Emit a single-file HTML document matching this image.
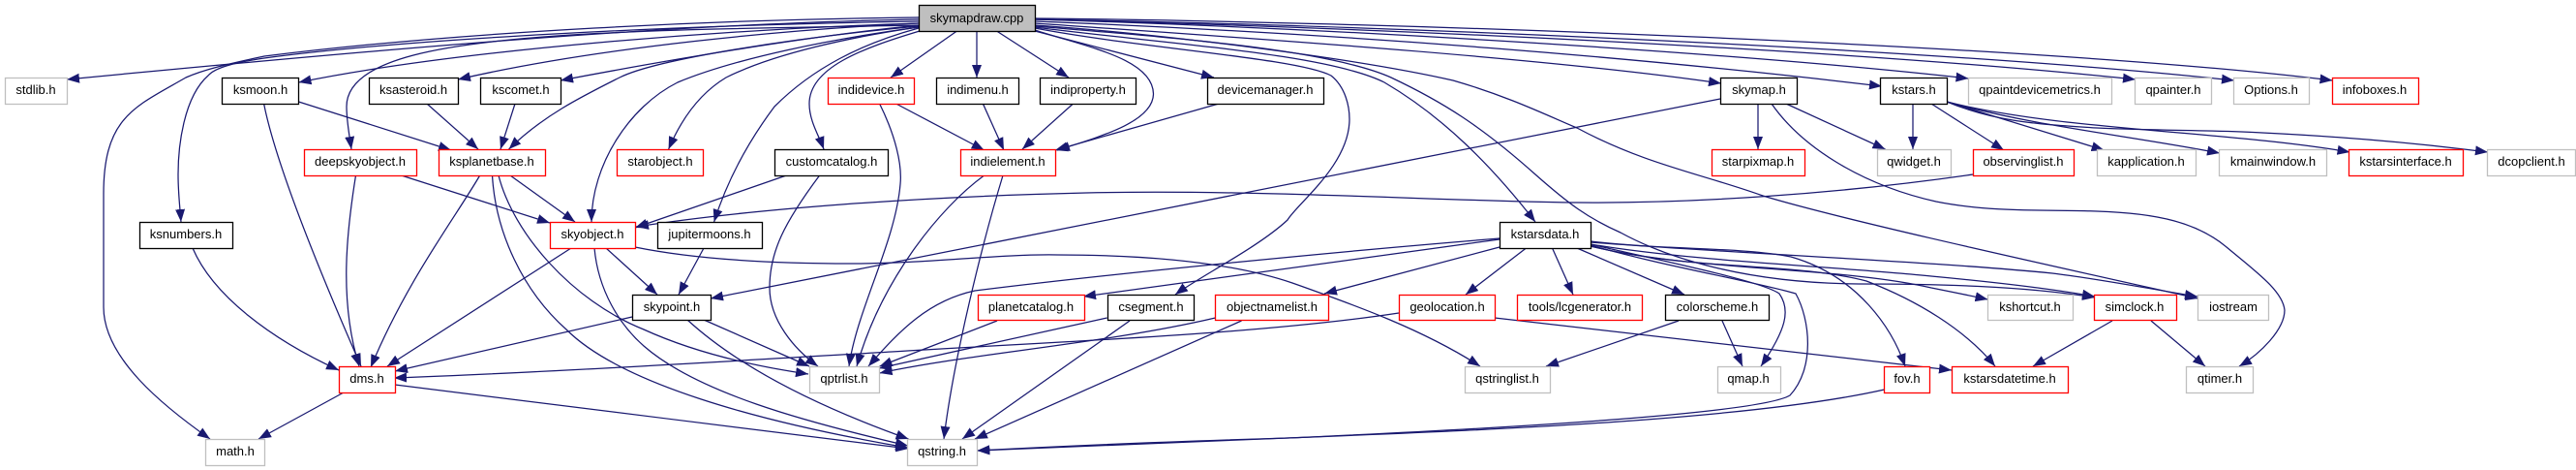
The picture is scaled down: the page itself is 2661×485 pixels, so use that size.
<!DOCTYPE html>
<html><head><meta charset="utf-8"><style>
html,body{margin:0;padding:0;background:#fff}
svg{display:block}
text{font-family:"Liberation Sans",sans-serif;font-size:13px;text-anchor:middle;fill:#000}
#e path{fill:none;stroke:#191970;stroke-width:1.25;marker-end:url(#a)}
rect{fill:#fff;stroke-width:1.3}
.b rect{stroke:#000}.r rect{stroke:#f00}.g rect{stroke:#bfbfbf}
</style></head><body>
<svg width="2661" height="485" viewBox="0 0 2661 485" xmlns="http://www.w3.org/2000/svg">
<defs><marker id="a" markerUnits="userSpaceOnUse" markerWidth="15" markerHeight="12" refX="13" refY="5.5" orient="auto"><path d="M0,0.5L13,5.5L0,10.5z" fill="#191970"/></marker></defs>
<g id="e">
<path d="M949,20C700,24 400,50 69,82"/>
<path d="M949,18C750,20 480,32 273,58C235,66 210,72 192,80C140,110 107,120 107,200L107,317C107,370 170,420 217,453"/>
<path d="M949,22C700,26 420,40 273,60C240,65 222,70 215,78C190,100 184,150 184,180C184,200 186,215 187,229"/>
<path d="M949,24C760,30 480,50 308.500,85"/>
<path d="M949,26C750,30 530,30 427,57C385,68 358,85 358,110C358,125 361,140 363,154"/>
<path d="M949,24C820,30 620,48 473,82"/>
<path d="M949,26C830,38 690,62 579,83"/>
<path d="M949,27C830,38 680,60 640,80C600,100 560,120 525.600,154"/>
<path d="M949,28C860,40 760,60 700,85C650,110 611,170 611,229"/>
<path d="M949,28C880,38 800,55 750,80C725,95 705,120 690.600,154"/>
<path d="M949,29C890,45 840,70 800,110C770,150 750,190 737.600,229"/>
<path d="M950,32C890,50 836,70 836,107C836,125 846,140 851,154"/>
<path d="M988.500,32L920,80"/>
<path d="M1009,32L1009,80"/>
<path d="M1029.500,32L1104,80"/>
<path d="M1069,31C1120,48 1191,60 1191.500,97C1191,125 1140,140 1092,155"/>
<path d="M1259,107L1090,155"/>
<path d="M1069,32L1254,80"/>
<path d="M1069,29C1180,50 1340,60 1375,78C1390,90 1394,110 1394,123C1394,170 1340,210 1330,227C1300,255 1240,285 1214,304"/>
<path d="M1069,28C1200,45 1370,55 1430,85C1490,120 1540,170 1586,229"/>
<path d="M1069,27C1200,38 1370,50 1437,80C1490,105 1530,130 1586,180C1620,210 1640,225 1674,240C1720,265 1800,292 1920,293C2000,293 2090,295 2164,307"/>
<path d="M1069,26C1200,35 1400,60 1501,83C1560,100 1600,120 1629,132C1700,170 1760,180 1821,202C1900,226 2100,270 2270.600,308"/>
<path d="M1069,24C1300,40 1600,60 1778,86"/>
<path d="M1069,22C1400,35 1700,60 1944,89"/>
<path d="M1069,20C1400,30 1800,55 2033.500,81"/>
<path d="M1069,20C1400,28 1900,50 2206,82"/>
<path d="M1069,20C1400,25 2000,50 2308,83"/>
<path d="M1069,19C1400,22 2100,45 2409.500,83"/>
<path d="M308.500,105L466,155"/>
<path d="M272.600,107C285,170 330,280 373,378"/>
<path d="M441,107L494,154"/>
<path d="M532,107L517,154"/>
<path d="M367.500,181C358,240 350,310 371,378"/>
<path d="M414.500,181L568,230"/>
<path d="M527,181L594,229"/>
<path d="M495.700,181C470,225 420,290 383,379"/>
<path d="M508.500,181C512,240 540,300 585,340C640,395 780,435 938,462"/>
<path d="M515,181C530,240 590,310 665,340C720,365 780,378 835,386"/>
<path d="M614,256C618,300 640,335 665,357C720,405 830,435 938,460"/>
<path d="M590,256L400,378"/>
<path d="M626,256L679,304"/>
<path d="M727,256L701,304"/>
<path d="M812.400,181L656,235"/>
<path d="M2038,180C1900,200 1750,210 1629,209C1500,208 1300,195 1122,199C950,203 780,215 657,234"/>
<path d="M846.600,181C810,230 795,260 795,297C795,330 820,360 845,378"/>
<path d="M908.600,107C925,140 932,170 930,190C925,250 885,320 877,378"/>
<path d="M925.600,107L1016.700,155"/>
<path d="M1015.400,107L1037,155"/>
<path d="M1108.500,107L1056,154"/>
<path d="M1016.700,181C970,215 910,290 885,378"/>
<path d="M1036,181C1015,250 985,370 975,453"/>
<path d="M1777,102L734,308"/>
<path d="M1816,107L1816,154"/>
<path d="M1845,107L1947.500,154"/>
<path d="M1830,107C1860,150 1920,190 2000,208C2060,220 2120,216 2166,218C2230,220 2270,230 2300,255C2330,280 2358,300 2360,320C2360,340 2335,365 2313,378"/>
<path d="M1976,107L1976,154"/>
<path d="M1995,107L2070,155"/>
<path d="M2011,105L2173.600,155"/>
<path d="M2011,105C2100,130 2200,140 2293,158"/>
<path d="M2011,105C2130,135 2300,135 2427.500,157"/>
<path d="M2011,105C2060,125 2100,128 2166,132C2230,135 2290,134 2337,137C2420,141 2500,148 2570,157"/>
<path d="M1549,247L1119,306"/>
<path d="M1549,246C1400,258 1150,282 1007,300C960,310 930,340 897,378"/>
<path d="M1549,255L1368,303"/>
<path d="M1576.500,256L1514,304"/>
<path d="M1603.500,256L1625,304"/>
<path d="M1629,256L1740,304"/>
<path d="M1643,252C1720,270 1820,290 1838,303C1850,320 1845,340 1819,378"/>
<path d="M1643,253C1720,275 1810,290 1855,303C1870,330 1875,380 1849,408C1820,425 1600,440 1330,452C1200,456 1100,460 1009.400,465"/>
<path d="M1946.600,402C1800,435 1500,445 1330,452C1200,457 1100,461 1009.400,465"/>
<path d="M1643,249C1720,258 1800,255 1850,265C1920,285 1955,340 1968,378"/>
<path d="M1643,250C1800,262 2000,270 2120,282C2170,288 2220,298 2270,306"/>
<path d="M1643,252C1750,270 1900,275 1995,285C2070,292 2120,298 2164,306"/>
<path d="M1643,254C1750,280 1900,275 1995,297C2015,301 2035,305 2053.500,309"/>
<path d="M1643,254C1750,280 1850,270 1928,290C1980,310 2030,340 2061,378"/>
<path d="M1445,323C1300,345 1100,352 921,363C750,373 550,385 407,390"/>
<path d="M1544,328L2016,382"/>
<path d="M656,255C720,268 800,272 879,272C960,272 1030,262 1092,263C1180,263 1270,270 1335,292C1400,315 1470,340 1529,378"/>
<path d="M1734,331L1597,378"/>
<path d="M1779,331L1800,378"/>
<path d="M1030,331L908.600,378"/>
<path d="M1143.600,328L908,380"/>
<path d="M1167,331L994,453"/>
<path d="M1255.500,328C1140,355 1000,365 908.600,385"/>
<path d="M1282.500,331L1007,453"/>
<path d="M727,330L836,378"/>
<path d="M710,330C770,385 860,425 938.500,453"/>
<path d="M653,327L408,383"/>
<path d="M199,256C220,305 280,350 350,382"/>
<path d="M355,405L267,453"/>
<path d="M408,397C520,412 800,445 938.500,463"/>
<path d="M2182,331L2100,378"/>
<path d="M2222,331L2278,378"/>
</g>
<rect x="949.500" y="5.500" width="120" height="27" style="fill:#bfbfbf;stroke:#000"/>
<text x="1009" y="23">skymapdraw.cpp</text>
<g class="g">
<rect x="5.500" y="80.500" width="64" height="27"/>
<rect x="212.500" y="453.500" width="61" height="27"/>
<rect x="836.500" y="378.500" width="72" height="27"/>
<rect x="937.500" y="453.500" width="72" height="27"/>
<rect x="1939.500" y="154.500" width="76" height="27"/>
<rect x="1513.500" y="378.500" width="88" height="27"/>
<rect x="1774.500" y="378.500" width="65" height="27"/>
<rect x="2033.500" y="80.500" width="148" height="27"/>
<rect x="2205.500" y="80.500" width="79" height="27"/>
<rect x="2307.500" y="80.500" width="78" height="27"/>
<rect x="2166.500" y="154.500" width="102" height="27"/>
<rect x="2292.500" y="154.500" width="111" height="27"/>
<rect x="2569.500" y="154.500" width="91" height="27"/>
<rect x="2053.500" y="304.500" width="88" height="26"/>
<rect x="2270.500" y="304.500" width="73" height="26"/>
<rect x="2258.500" y="378.500" width="69" height="27"/>
</g>
<g class="b">
<rect x="229.500" y="80.500" width="79" height="27"/>
<rect x="381.500" y="80.500" width="92" height="27"/>
<rect x="496.500" y="80.500" width="83" height="27"/>
<rect x="144.500" y="229.500" width="96" height="27"/>
<rect x="967.500" y="80.500" width="85" height="27"/>
<rect x="1074.500" y="80.500" width="99" height="27"/>
<rect x="1247.500" y="80.500" width="120" height="27"/>
<rect x="800.500" y="154.500" width="117" height="27"/>
<rect x="679.500" y="229.500" width="108" height="27"/>
<rect x="653.500" y="304.500" width="81" height="26"/>
<rect x="1144.500" y="304.500" width="89" height="26"/>
<rect x="1777.500" y="80.500" width="79" height="27"/>
<rect x="1942.500" y="80.500" width="69" height="27"/>
<rect x="1549.500" y="229.500" width="94" height="27"/>
<rect x="1720.500" y="304.500" width="107" height="26"/>
</g>
<g class="r">
<rect x="314.500" y="154.500" width="116" height="27"/>
<rect x="453.500" y="154.500" width="110" height="27"/>
<rect x="637.500" y="154.500" width="89" height="27"/>
<rect x="568.500" y="229.500" width="88" height="27"/>
<rect x="350.500" y="378.500" width="58" height="27"/>
<rect x="855.500" y="80.500" width="89" height="27"/>
<rect x="992.500" y="154.500" width="98" height="27"/>
<rect x="1010.500" y="304.500" width="110" height="26"/>
<rect x="1255.500" y="304.500" width="117" height="26"/>
<rect x="1768.500" y="154.500" width="96" height="27"/>
<rect x="1445.500" y="304.500" width="99" height="26"/>
<rect x="1567.500" y="304.500" width="129" height="26"/>
<rect x="1946.500" y="378.500" width="47" height="27"/>
<rect x="2409.500" y="80.500" width="89" height="27"/>
<rect x="2038.500" y="154.500" width="104" height="27"/>
<rect x="2426.500" y="154.500" width="118" height="27"/>
<rect x="2163.500" y="304.500" width="85" height="26"/>
<rect x="2016.500" y="378.500" width="120" height="27"/>
</g>
<text x="37" y="97">stdlib.h</text>
<text x="243" y="470">math.h</text>
<text x="872" y="395">qptrlist.h</text>
<text x="973" y="470">qstring.h</text>
<text x="1977" y="171">qwidget.h</text>
<text x="1557" y="395">qstringlist.h</text>
<text x="1806" y="395">qmap.h</text>
<text x="2107" y="97">qpaintdevicemetrics.h</text>
<text x="2245" y="97">qpainter.h</text>
<text x="2346" y="97">Options.h</text>
<text x="2217" y="171">kapplication.h</text>
<text x="2348" y="171">kmainwindow.h</text>
<text x="2615" y="171">dcopclient.h</text>
<text x="2097" y="321">kshortcut.h</text>
<text x="2307" y="321">iostream</text>
<text x="2293" y="395">qtimer.h</text>
<text x="269" y="97">ksmoon.h</text>
<text x="427" y="97">ksasteroid.h</text>
<text x="538" y="97">kscomet.h</text>
<text x="192" y="246">ksnumbers.h</text>
<text x="1010" y="97">indimenu.h</text>
<text x="1124" y="97">indiproperty.h</text>
<text x="1307" y="97">devicemanager.h</text>
<text x="859" y="171">customcatalog.h</text>
<text x="733" y="246">jupitermoons.h</text>
<text x="694" y="321">skypoint.h</text>
<text x="1189" y="321">csegment.h</text>
<text x="1817" y="97">skymap.h</text>
<text x="1977" y="97">kstars.h</text>
<text x="1596" y="246">kstarsdata.h</text>
<text x="1774" y="321">colorscheme.h</text>
<text x="372" y="171">deepskyobject.h</text>
<text x="508" y="171">ksplanetbase.h</text>
<text x="682" y="171">starobject.h</text>
<text x="612" y="246">skyobject.h</text>
<text x="379" y="395">dms.h</text>
<text x="900" y="97">indidevice.h</text>
<text x="1041" y="171">indielement.h</text>
<text x="1065" y="321">planetcatalog.h</text>
<text x="1314" y="321">objectnamelist.h</text>
<text x="1816" y="171">starpixmap.h</text>
<text x="1495" y="321">geolocation.h</text>
<text x="1632" y="321">tools/lcgenerator.h</text>
<text x="1970" y="395">fov.h</text>
<text x="2453" y="97">infoboxes.h</text>
<text x="2090" y="171">observinglist.h</text>
<text x="2485" y="171">kstarsinterface.h</text>
<text x="2205" y="321">simclock.h</text>
<text x="2076" y="395">kstarsdatetime.h</text>
</svg>
</body></html>
